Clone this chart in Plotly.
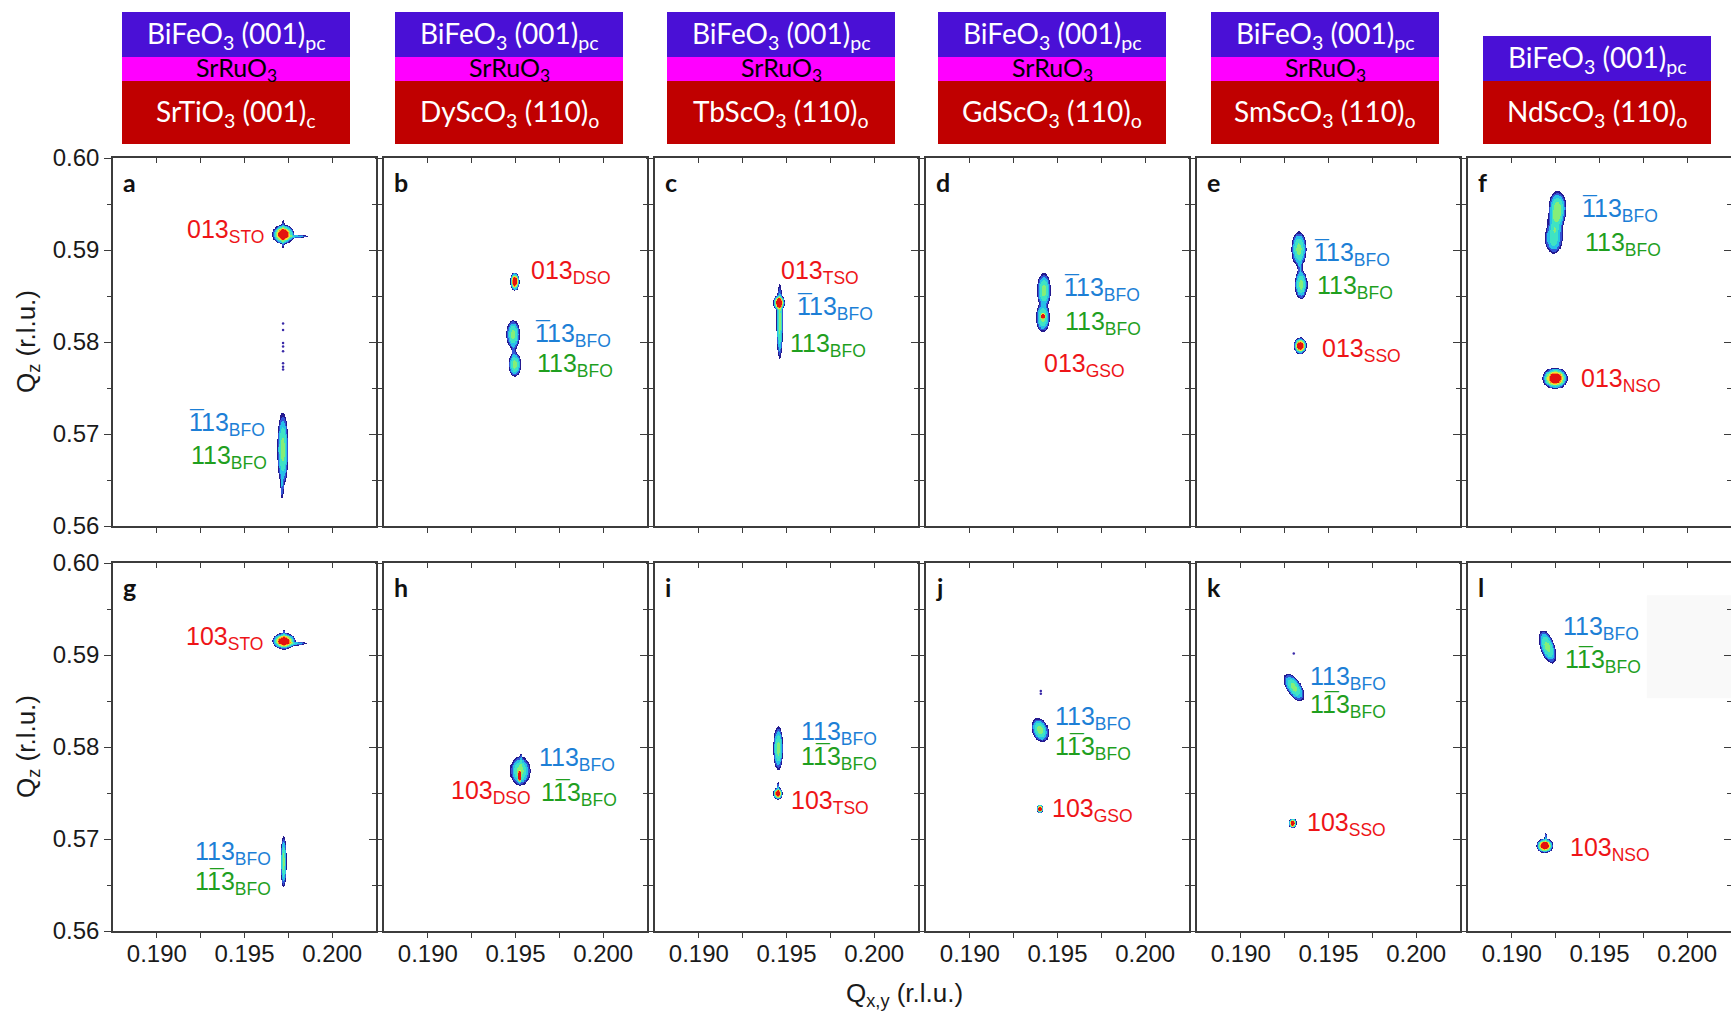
import numpy as np
import plotly.graph_objects as go

W, H = 1731, 1016

# ---------------- data ----------------
panel_letters = list("abcdefghijkl")
film_label = "BiFeO<sub>3</sub> (001)<sub>pc</sub>"
electrode_label = "SrRuO<sub>3</sub>"
substrate_labels = ["SrTiO<sub>3</sub> (001)<sub>c</sub>", "DyScO<sub>3</sub> (110)<sub>o</sub>",
                    "TbScO<sub>3</sub> (110)<sub>o</sub>", "GdScO<sub>3</sub> (110)<sub>o</sub>",
                    "SmScO<sub>3</sub> (110)<sub>o</sub>", "NdScO<sub>3</sub> (110)<sub>o</sub>"]
has_electrode = [True, True, True, True, True, False]

qx_range = [0.1875, 0.2025]
qz_range = [0.56, 0.60]
qx_ticks = [0.1900, 0.1925, 0.1950, 0.1975, 0.2000]
qx_ticktext = ["0.190", "", "0.195", "", "0.200"]
qz_ticks = [0.56, 0.57, 0.58, 0.59, 0.60]
qz_ticktext = ["0.56", "0.57", "0.58", "0.59", "0.60"]
qz_minor = [0.565, 0.575, 0.585, 0.595]

# peak components: (qx, qz, sigma_qx, sigma_qz, relative intensity, tilt dqx/dqz)
peaks_a = [(0.19720, 0.59170, 0.00028, 0.00048, 1.00, 0.0),
           (0.19780, 0.59145, 0.00045, 0.00011, 0.15, 0.0),
           (0.19720, 0.59170, 0.00005, 0.00090, 0.12, 0.0),
           (0.19718, 0.56830, 0.00016, 0.00200, 0.33, 0.0),
           (0.19714, 0.56420, 0.00005, 0.00080, 0.08, 0.0)]
peaks_b = [(0.19495, 0.58658, 0.00012, 0.00045, 1.00, 0.0),
           (0.19486, 0.58083, 0.00019, 0.00080, 0.33, 0.0),
           (0.19495, 0.57759, 0.00018, 0.00065, 0.33, 0.0),
           (0.19490, 0.57905, 0.00008, 0.00050, 0.06, 0.0)]
peaks_c = [(0.19459, 0.58425, 0.00016, 0.00040, 1.00, 0.0),
           (0.19463, 0.58220, 0.00010, 0.00205, 0.33, 0.0)]
peaks_d = [(0.19422, 0.58559, 0.00020, 0.00095, 0.33, 0.0),
           (0.19416, 0.58270, 0.00020, 0.00080, 0.33, 0.0),
           (0.19416, 0.58280, 0.00007, 0.00018, 0.80, 0.0)]
peaks_e = [(0.19331, 0.59010, 0.00022, 0.00095, 0.33, 0.0),
           (0.19343, 0.58625, 0.00018, 0.00080, 0.33, 0.0),
           (0.19337, 0.58820, 0.00008, 0.00060, 0.08, 0.0),
           (0.19339, 0.57959, 0.00017, 0.00040, 1.00, 0.0)]
peaks_f = [(0.19261, 0.59450, 0.00026, 0.00095, 0.35, 0.0),
           (0.19240, 0.59131, 0.00026, 0.00090, 0.25, 0.0),
           (0.19250, 0.59300, 0.00024, 0.00080, 0.20, 0.0),
           (0.19248, 0.57603, 0.00033, 0.00053, 1.00, 0.0)]
peaks_g = [(0.19725, 0.59150, 0.00030, 0.00040, 1.00, 0.0),
           (0.19775, 0.59123, 0.00045, 0.00013, 0.15, 0.0),
           (0.19725, 0.59183, 0.00005, 0.00060, 0.10, 0.0),
           (0.19723, 0.56750, 0.00009, 0.00140, 0.33, 0.0)]
peaks_h = [(0.19526, 0.57740, 0.00029, 0.00080, 0.33, 0.0),
           (0.19522, 0.57685, 0.00005, 0.00040, 0.90, 0.0),
           (0.19530, 0.57840, 0.00004, 0.00060, 0.08, 0.0)]
peaks_i = [(0.19453, 0.57986, 0.00014, 0.00120, 0.33, 0.0),
           (0.19451, 0.57496, 0.00012, 0.00030, 1.00, 0.0),
           (0.19451, 0.57560, 0.00004, 0.00040, 0.10, 0.0)]
peaks_j = [(0.19400, 0.58186, 0.00024, 0.00065, 0.33, -0.10),
           (0.19400, 0.57333, 0.00008, 0.00022, 1.00, 0.0)]
peaks_k = [(0.19304, 0.58647, 0.00024, 0.00075, 0.33, -0.23),
           (0.19296, 0.57167, 0.00011, 0.00025, 1.00, 0.0)]
peaks_l = [(0.19205, 0.59087, 0.00022, 0.00090, 0.33, -0.146),
           (0.19189, 0.56932, 0.00022, 0.00035, 1.00, 0.0),
           (0.19195, 0.56990, 0.00004, 0.00050, 0.10, 0.0)]
panel_peaks = [peaks_a, peaks_b, peaks_c, peaks_d, peaks_e, peaks_f,
               peaks_g, peaks_h, peaks_i, peaks_j, peaks_k, peaks_l]

# weak isolated counts (panel index, qx, qz)
dot_panel = [0, 0, 0, 0, 0, 0, 0, 0, 9, 9, 10]
dot_qx = [0.1972, 0.1972, 0.1972, 0.1972, 0.1972, 0.1972, 0.1972, 0.1972, 0.19405, 0.19405, 0.19302]
dot_qz = [0.5820, 0.5813, 0.5799, 0.5795, 0.5790, 0.5777, 0.5773, 0.5770, 0.5861, 0.5858, 0.59015]

# peak labels: (text, kind, qx of left edge, qz of centre, index of barred digit or -1)
labels_a = [("013<sub>STO</sub>", "sub", 0.19158, 0.59213, -1),
            ("113<sub>BFO</sub>", "f1", 0.19171, 0.57119, 0),
            ("113<sub>BFO</sub>", "f2", 0.19185, 0.56765, -1)]
labels_b = [("013<sub>DSO</sub>", "sub", 0.19577, 0.58777, -1),
            ("113<sub>BFO</sub>", "f1", 0.19600, 0.58090, 0),
            ("113<sub>BFO</sub>", "f2", 0.19610, 0.57760, -1)]
labels_c = [("013<sub>TSO</sub>", "sub", 0.19460, 0.58777, -1),
            ("113<sub>BFO</sub>", "f1", 0.19551, 0.58378, 0),
            ("113<sub>BFO</sub>", "f2", 0.19510, 0.57978, -1)]
labels_d = [("113<sub>BFO</sub>", "f1", 0.19523, 0.58584, 0),
            ("113<sub>BFO</sub>", "f2", 0.19533, 0.58214, -1),
            ("013<sub>GSO</sub>", "sub", 0.19412, 0.57760, -1)]
labels_e = [("113<sub>BFO</sub>", "f1", 0.19408, 0.58970, 0),
            ("113<sub>BFO</sub>", "f2", 0.19424, 0.58614, -1),
            ("013<sub>SSO</sub>", "sub", 0.19454, 0.57920, -1)]
labels_f = [("113<sub>BFO</sub>", "f1", 0.19391, 0.59450, 0),
            ("113<sub>BFO</sub>", "f2", 0.19405, 0.59075, -1),
            ("013<sub>NSO</sub>", "sub", 0.19385, 0.57603, -1)]
labels_g = [("103<sub>STO</sub>", "sub", 0.19157, 0.59200, -1),
            ("113<sub>BFO</sub>", "f1", 0.19207, 0.56860, -1),
            ("113<sub>BFO</sub>", "f2", 0.19207, 0.56535, 1)]
labels_h = [("113<sub>BFO</sub>", "f1", 0.19623, 0.57883, -1),
            ("113<sub>BFO</sub>", "f2", 0.19632, 0.57502, 1),
            ("103<sub>DSO</sub>", "sub", 0.19118, 0.57520, -1)]
labels_i = [("113<sub>BFO</sub>", "f1", 0.19569, 0.58158, -1),
            ("113<sub>BFO</sub>", "f2", 0.19569, 0.57886, 1),
            ("103<sub>TSO</sub>", "sub", 0.19516, 0.57414, -1)]
labels_j = [("113<sub>BFO</sub>", "f1", 0.19473, 0.58328, -1),
            ("113<sub>BFO</sub>", "f2", 0.19477, 0.58005, 1),
            ("103<sub>GSO</sub>", "sub", 0.19457, 0.57323, -1)]
labels_k = [("113<sub>BFO</sub>", "f1", 0.19382, 0.58763, -1),
            ("113<sub>BFO</sub>", "f2", 0.19382, 0.58457, 1),
            ("103<sub>SSO</sub>", "sub", 0.19368, 0.57175, -1)]
labels_l = [("113<sub>BFO</sub>", "f1", 0.19279, 0.59305, -1),
            ("113<sub>BFO</sub>", "f2", 0.19289, 0.58945, 1),
            ("103<sub>NSO</sub>", "sub", 0.19319, 0.56900, -1)]
panel_labels = [labels_a, labels_b, labels_c, labels_d, labels_e, labels_f,
                labels_g, labels_h, labels_i, labels_j, labels_k, labels_l]

# ---------------- style ----------------
label_colors = {"sub": "#ee1418", "f1": "#1c7fd6", "f2": "#1f9f1f"}
levels = [0.02, 0.045, 0.09, 0.18, 0.30, 0.45, 0.58, 0.70]
level_colors = ["#241a8f", "#3355d5", "#27c0e8", "#3fe3c4", "#86ee78", "#ece63a", "#ff8c1a", "#e3120f"]
colorscale = [[0.0, "rgba(255,255,255,0)"], [levels[0], "rgba(255,255,255,0)"]]
for i, lv in enumerate(levels):
    nxt = levels[i + 1] if i + 1 < len(levels) else 1.0
    colorscale += [[lv, level_colors[i]], [nxt, level_colors[i]]]

AXC = "#3c3c3c"
SANS = "Liberation Sans, Arial, sans-serif"
TICKFONT = dict(family=SANS, size=24, color="#1a1a1a")
LABEL_SIZE = 25
BOXFONT = "Lato, Carlito, sans-serif"

col_left = [113, 384, 655, 926, 1197, 1468]
col_w = 263
row_top = [158, 563]
row_h = 368
box_left = [122, 395, 667, 938, 1211, 1483]
box_w = 228


def fx(px):
    return px / W


def fy(py):
    return 1 - py / H


def intensity(comps, QX, QZ):
    out = np.zeros_like(QX)
    for qx, qz, sx, sz, amp, sh in comps:
        cx = qx + sh * (QZ - qz)
        r2 = ((QX - cx) / sx) ** 2 + ((QZ - qz) / sz) ** 2
        out += amp * np.exp(-(r2 / 2.0) ** 1.5)
    return np.clip(out, 0, 1)


fig = go.Figure()
layout = dict(width=W, height=H, autosize=False, margin=dict(l=0, r=0, t=0, b=0, pad=0),
              paper_bgcolor="white", plot_bgcolor="white", showlegend=False, template="none")
annotations = []
shapes = []

for n in range(12):
    r, c = divmod(n, 6)
    idx = n + 1
    s = "" if idx == 1 else str(idx)
    o = str(idx + 12)
    xd = [fx(col_left[c]), fx(col_left[c] + col_w)]
    yd = [fy(row_top[r] + row_h), fy(row_top[r])]
    last_col = (c == 5)

    layout["xaxis" + s] = dict(domain=xd, range=qx_range, anchor="y" + s, showgrid=False, zeroline=False,
                               automargin=False,
                               showline=True, linecolor=AXC, linewidth=1.6, mirror=True,
                               ticks="outside", ticklen=5, tickwidth=1.4, tickcolor=AXC,
                               tickmode="array", tickvals=qx_ticks, ticktext=qx_ticktext,
                               ticklabelstandoff=-5,
                               showticklabels=(r == 1), tickfont=TICKFONT)
    layout["yaxis" + s] = dict(domain=yd, range=qz_range, anchor="x" + s, showgrid=False, zeroline=False,
                               automargin=False,
                               showline=True, linecolor=AXC, linewidth=1.6, mirror=(not last_col),
                               ticks="outside", ticklen=7, tickwidth=1.4, tickcolor=AXC,
                               tickmode="array", tickvals=qz_ticks, ticktext=qz_ticktext,
                               minor=dict(ticks="outside", ticklen=4, tickwidth=1.2, tickcolor=AXC,
                                          tickmode="array", tickvals=qz_minor),
                               showticklabels=(c == 0), tickfont=TICKFONT)
    # mirrored inward ticks on top / right
    layout["xaxis" + o] = dict(overlaying="x" + s, side="top", anchor="y" + s, range=qx_range,
                               showgrid=False, zeroline=False, showline=False, automargin=False,
                               ticks="inside", ticklen=5, tickwidth=1.4, tickcolor=AXC,
                               tickmode="array", tickvals=qx_ticks, showticklabels=False)
    layout["yaxis" + o] = dict(overlaying="y" + s, side="right", anchor="x" + s, range=qz_range,
                               showgrid=False, zeroline=False, showline=False, automargin=False,
                               ticks="inside", ticklen=7, tickwidth=1.4, tickcolor=AXC,
                               tickmode="array", tickvals=qz_ticks,
                               minor=dict(ticks="inside", ticklen=4, tickwidth=1.2, tickcolor=AXC,
                                          tickmode="array", tickvals=qz_minor),
                               showticklabels=False)
    fig.add_trace(go.Scatter(x=[None], y=[None], xaxis="x" + o, yaxis="y" + o,
                             mode="markers", hoverinfo="skip"))

    # intensity map
    comps = panel_peaks[n]
    xmin = min(p[0] - 3.2 * p[2] - abs(p[5]) * 3.2 * p[3] for p in comps)
    xmax = max(p[0] + 3.2 * p[2] + abs(p[5]) * 3.2 * p[3] for p in comps)
    zmin = max(qz_range[0], min(p[1] - 3.2 * p[3] for p in comps))
    zmax = min(qz_range[1], max(p[1] + 3.2 * p[3] for p in comps))
    xg = np.arange(xmin, xmax, 0.00003)
    zg = np.arange(zmin, zmax, 0.00008)
    QX, QZ = np.meshgrid(xg, zg)
    I = intensity(comps, QX, QZ).astype(np.float32)
    fig.add_trace(go.Heatmap(x=xg.astype(np.float32), y=zg.astype(np.float32), z=I, zmin=0, zmax=1,
                             colorscale=colorscale, showscale=False, zsmooth=False,
                             hoverinfo="skip", xaxis="x" + s, yaxis="y" + s))

    # isolated weak counts
    dx = [dot_qx[k] for k in range(len(dot_panel)) if dot_panel[k] == n]
    dz = [dot_qz[k] for k in range(len(dot_panel)) if dot_panel[k] == n]
    if dx:
        fig.add_trace(go.Scatter(x=dx, y=dz, mode="markers", hoverinfo="skip",
                                 marker=dict(size=2.5, color="#3a2aa8"),
                                 xaxis="x" + s, yaxis="y" + s))

    # peak labels (with overbar on negative index)
    for text, kind, lx, lz, bar in panel_labels[n]:
        fnt = dict(family=SANS, size=LABEL_SIZE, color=label_colors[kind])
        annotations.append(dict(x=lx, y=lz, xref="x" + s, yref="y" + s, text=text, showarrow=False,
                                xanchor="left", yanchor="middle", yshift=-1, font=fnt))
        if bar >= 0:
            annotations.append(dict(x=lx, y=lz, xref="x" + s, yref="y" + s, text="\u00af",
                                    showarrow=False, xanchor="left", yanchor="middle",
                                    xshift=bar * 0.556 * LABEL_SIZE, yshift=3, font=fnt))
    # panel letter
    annotations.append(dict(x=0.03, y=1 - 24 / row_h, xref="x" + s + " domain", yref="y" + s + " domain",
                            text="<b>" + panel_letters[n] + "</b>", showarrow=False,
                            xanchor="left", yanchor="middle",
                            font=dict(family="Lato, Liberation Sans, sans-serif", size=25, color="#111111")))

# faint artifact rectangle in panel l
shapes.append(dict(type="rect", xref="x12", yref="y12", x0=0.1977, x1=0.2025, y0=0.5853, y1=0.5965,
                   fillcolor="#f9f9f9", line=dict(width=0), layer="below"))

# sample stack headers
for c in range(6):
    x0, x1 = fx(box_left[c]), fx(box_left[c] + box_w)
    if has_electrode[c]:
        bands = [(12, 57, "#4a10d6", film_label, "white", 28),
                 (57, 81, "#ff00ff", electrode_label, "black", 25),
                 (81, 144, "#c00000", substrate_labels[c], "white", 28)]
    else:
        bands = [(36, 81, "#4a10d6", film_label, "white", 28),
                 (81, 144, "#c00000", substrate_labels[c], "white", 28)]
    for t, b, col, txt, tcol, fs in bands:
        shapes.append(dict(type="rect", xref="paper", yref="paper", x0=x0, x1=x1, y0=fy(b), y1=fy(t),
                           fillcolor=col, line=dict(width=0), layer="above"))
    for t, b, col, txt, tcol, fs in bands:
        annotations.append(dict(x=(x0 + x1) / 2, y=fy((t + b) / 2), xref="paper", yref="paper",
                                text=txt, showarrow=False, xanchor="center", yanchor="middle",
                                font=dict(family=BOXFONT, size=fs, color=tcol)))

# axis titles
for r in range(2):
    annotations.append(dict(x=fx(27), y=fy(row_top[r] + row_h / 2), xref="paper", yref="paper",
                            text="Q<sub>z</sub> (r.l.u.)", textangle=-90, showarrow=False,
                            xanchor="center", yanchor="middle",
                            font=dict(family=SANS, size=26, color="#1a1a1a")))
annotations.append(dict(x=fx(904), y=fy(994), xref="paper", yref="paper",
                        text="Q<sub>x,y</sub> (r.l.u.)", showarrow=False, xanchor="center", yanchor="middle",
                        font=dict(family=SANS, size=26, color="#1a1a1a")))

layout["annotations"] = annotations
layout["shapes"] = shapes
fig.update_layout(**layout)

fig.write_html("out.html", config={"displayModeBar": False},
               post_script="document.body.style.margin='0px';")
